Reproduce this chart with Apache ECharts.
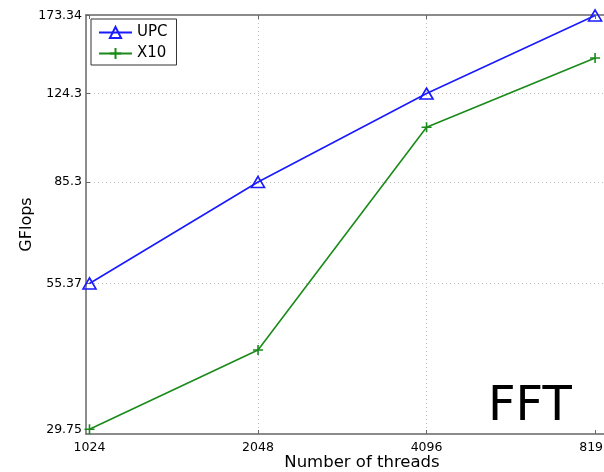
<!DOCTYPE html>
<html>
<head>
<meta charset="utf-8">
<script src="https://cdn.jsdelivr.net/npm/echarts@6/dist/echarts.min.js"></script>
<style>html,body{margin:0;padding:0;background:#fff}#c{width:604px;height:472px}</style>
</head>
<body>
<div id="c"></div>
<script>
const threads = [1024, 2048, 4096, 8192];
const upc = [55.37, 85.3, 124.3, 173.34];
const x10 = [29.75, 41.7, 107.7, 144.6];
const yTicks = [29.75, 55.37, 85.3, 124.3, 173.34];
const yTickLabels = ['29.75', '55.37', '85.3', '124.3', '173.34'];
const xTicks = [1024, 2048, 4096, 8192];
const xTickLabels = ['1024', '2048', '4096', '8192'];

const FONT = 'DejaVu Sans';
function nearestLabel(v, ticks, labels) {
  let best = 0;
  for (let i = 1; i < ticks.length; i++) {
    if (Math.abs(Math.log(ticks[i]) - Math.log(v)) < Math.abs(Math.log(ticks[best]) - Math.log(v))) best = i;
  }
  return labels[best];
}
function gridLine() { return { show: true, showMinLine: false, showMaxLine: false, lineStyle: { color: '#bdbdbd', width: 1, type: [1, 3] } }; }
function axisLine() { return { show: true, onZero: false, lineStyle: { color: '#666', width: 1.5 } }; }

const chart = echarts.init(document.getElementById('c'), null, { renderer: 'canvas' });
chart.setOption({
  animation: false,
  backgroundColor: '#fff',
  grid: { left: 86, top: 15, bottom: 38, right: 0, containLabel: false, outerBoundsMode: 'none' },
  legend: {
    orient: 'vertical', left: 91, top: 19,
    padding: [6, 9, 4, 7], itemWidth: 33, itemHeight: 14, itemGap: 6,
    backgroundColor: '#fff', borderColor: '#333', borderWidth: 1,
    textStyle: { fontFamily: FONT, fontSize: 15, lineHeight: 14, color: '#000' },
    data: ['UPC', 'X10']
  },
  xAxis: [{
    type: 'log', logBase: 2, min: 1009.4, max: 8498,
    name: 'Number of threads', nameLocation: 'middle', nameGap: 20, nameMoveOverlap: false,
    nameTextStyle: { fontFamily: FONT, fontSize: 16.5, color: '#000', padding: [0, 0, 0, 34] },
    axisLine: axisLine(),
    axisTick: { show: true, inside: true, length: 4, customValues: xTicks, lineStyle: { color: '#666' } },
    axisLabel: { customValues: xTicks, margin: 7, fontFamily: FONT, fontSize: 12.5, color: '#000',
      hideOverlap: false, formatter: v => nearestLabel(v, xTicks, xTickLabels) },
    splitLine: gridLine()
  }, {
    type: 'log', logBase: 2, min: 1009.4, max: 8498, position: 'top',
    axisLine: axisLine(),
    axisTick: { show: true, inside: true, length: 4, customValues: xTicks, lineStyle: { color: '#666' } },
    axisLabel: { show: false },
    splitLine: { show: false }
  }],
  yAxis: {
    type: 'log', logBase: 10, min: 29.16, max: 173.7,
    name: 'GFlops', nameLocation: 'middle', nameGap: 51, nameRotate: 90, nameMoveOverlap: false,
    nameTextStyle: { fontFamily: FONT, fontSize: 16, color: '#000' },
    axisLine: axisLine(),
    axisTick: { show: true, inside: true, length: 4, customValues: yTicks, lineStyle: { color: '#666' } },
    axisLabel: { customValues: yTicks, margin: 4, fontFamily: FONT, fontSize: 12.5, color: '#000',
      formatter: v => nearestLabel(v, yTicks, yTickLabels) },
    splitLine: gridLine()
  },
  graphic: [{
    type: 'text', left: 488, top: 384, z: 100,
    style: { text: 'FFT', fontFamily: FONT, fontSize: 48, fill: '#000' }
  }],
  series: [{
    name: 'UPC', type: 'line',
    data: threads.map((t, i) => [t, upc[i]]),
    symbol: 'triangle', symbolSize: [13, 11],
    lineStyle: { color: '#1a1aff', width: 1.6 },
    itemStyle: { color: 'rgba(0,0,0,0)', borderColor: '#1a1aff', borderWidth: 1.6 },
    z: 3
  }, {
    name: 'X10', type: 'line',
    data: threads.map((t, i) => [t, x10[i]]),
    symbol: 'path://M0,5L10,5M5,0L5,10', symbolSize: 10,
    lineStyle: { color: '#1a8a1a', width: 1.6 },
    itemStyle: { color: '#1a8a1a', borderColor: '#1a8a1a', borderWidth: 1.6 },
    z: 3
  }]
});
</script>
</body>
</html>
